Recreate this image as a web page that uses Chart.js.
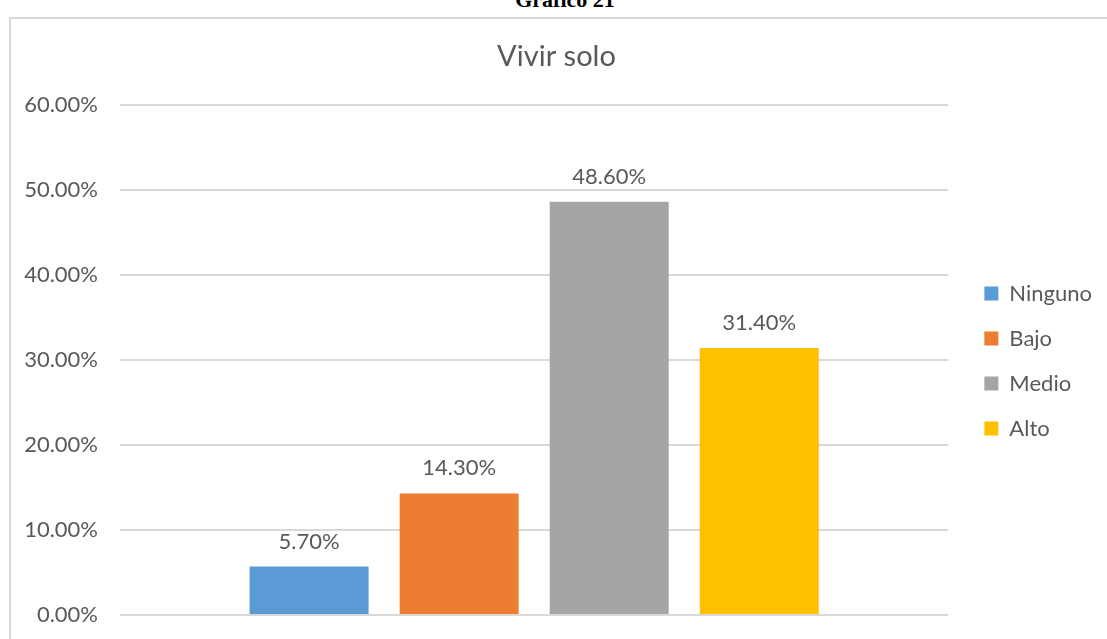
<!DOCTYPE html>
<html>
<head>
<meta charset="utf-8">
<script src="https://cdn.jsdelivr.net/npm/chart.js@4"></script>
<style>
  html, body { margin: 0; padding: 0; background: #fff; overflow: hidden; }
  body { width: 1107px; height: 639px; position: relative; }
  #heading {
    position: absolute; left: 0; width: 1130px; top: -13px;
    text-align: center; font: bold 22px "Liberation Serif", serif; color: #000;
  }
  #frame {
    position: absolute; left: 9px; top: 17px; width: 1098px; height: 622px;
    border-left: 2px solid #d9d9d9; border-top: 2px solid #d9d9d9;
  }
  #chart { display: block; }
</style>
</head>
<body>
<div id="heading">Gráfico 21</div>
<div id="frame"><canvas id="chart" width="1096" height="620"></canvas></div>
<script>
const chartTitle = "Vivir solo";
const levels = ["Ninguno", "Bajo", "Medio", "Alto"];
const shares = [5.7, 14.3, 48.6, 31.4];
const colors = ["#5b9bd5", "#ed7d31", "#a5a5a5", "#ffc000"];

const textColor = "#595959";
const fontFamily = "Lato, 'Open Sans', sans-serif";

// value above each bar
const valueLabels = {
  id: "valueLabels",
  afterDatasetsDraw(chart) {
    const ctx = chart.ctx;
    ctx.save();
    ctx.font = "22px " + fontFamily;
    ctx.fillStyle = textColor;
    ctx.textAlign = "center";
    ctx.textBaseline = "bottom";
    chart.data.datasets.forEach((ds, i) => {
      const bar = chart.getDatasetMeta(i).data[0];
      ctx.fillText(ds.data[0].toFixed(2) + "%", bar.x, bar.y - 14);
    });
    ctx.restore();
  },
};

new Chart(document.getElementById("chart"), {
  type: "bar",
  data: {
    labels: [""],
    datasets: levels.map((name, i) => ({
      label: name,
      data: [shares[i]],
      backgroundColor: colors[i],
      borderWidth: 0,
    })),
  },
  options: {
    responsive: false,
    animation: false,
    categoryPercentage: 0.7246,
    barPercentage: 0.793,
    layout: { padding: { left: 0, right: 5, bottom: 24, top: 0 } },
    plugins: {
      tooltip: { enabled: false },
      title: {
        display: true,
        text: chartTitle,
        color: textColor,
        font: { family: fontFamily, size: 29, weight: "normal" },
        padding: { top: 20, bottom: 31 },
      },
      legend: {
        position: "right",
        align: "center",
        title: {
          display: true,
          text: " ",
          font: { size: 20 },
          padding: { top: 64, bottom: 0 },
        },
        labels: {
          color: textColor,
          font: { family: fontFamily, size: 22 },
          boxWidth: 14,
          boxHeight: 14,
          padding: 23,
        },
      },
    },
    scales: {
      x: { display: false },
      y: {
        min: 0,
        max: 60,
        afterFit(axis) {
          axis.width = 109;
          axis.paddingTop = 0;
          axis.paddingBottom = 0;
        },
        border: { display: false },
        grid: { color: "#d9d9d9", lineWidth: 2, drawTicks: false },
        ticks: {
          stepSize: 10,
          padding: 22,
          color: textColor,
          font: { family: fontFamily, size: 22 },
          callback: (v) => v.toFixed(2) + "%",
        },
      },
      // empty spacer between plot and legend
      gap: {
        type: "linear",
        position: "right",
        afterFit(axis) { axis.width = 13; },
        border: { display: false },
        grid: { display: false },
        ticks: { display: false },
      },
    },
  },
  plugins: [valueLabels],
});
</script>
</body>
</html>
